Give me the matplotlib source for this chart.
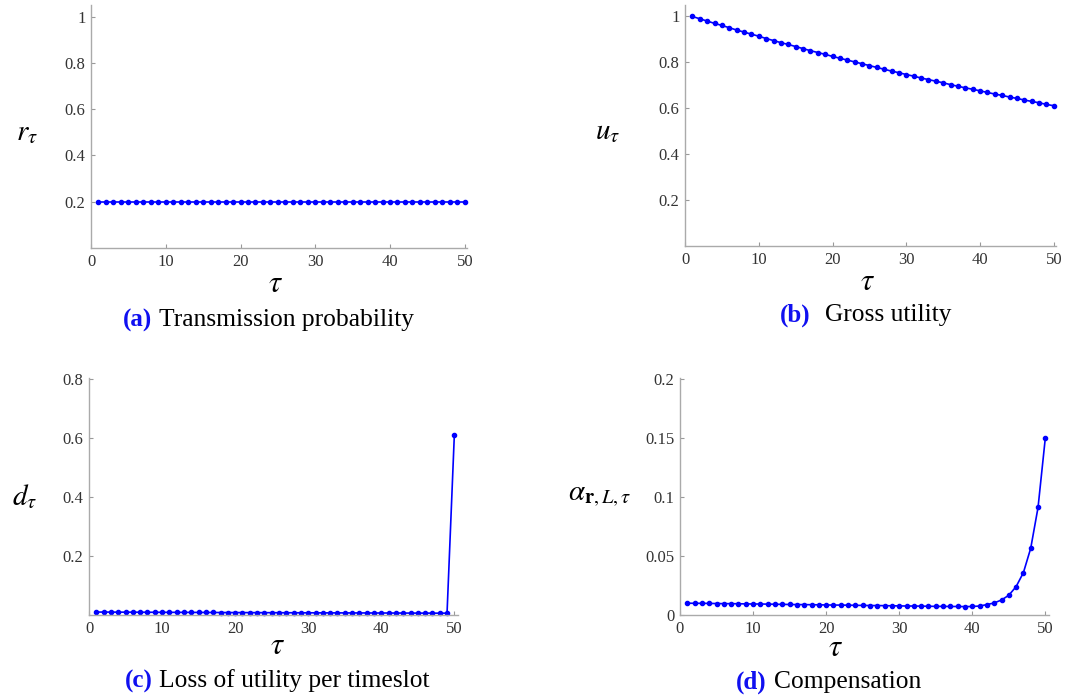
import matplotlib
matplotlib.use("Agg")
import matplotlib.pyplot as plt

plt.rcParams['font.family'] = ['Liberation Serif', 'DejaVu Serif']
plt.rcParams['mathtext.fontset'] = 'stix'

# time slots
tau = list(range(1, 51))

# (a) transmission probability
r_tau = [0.2] * 50

# (b) gross utility
u_tau = [1.000, 0.990, 0.980, 0.970, 0.961, 0.951, 0.941, 0.932, 0.923, 0.914,
         0.904, 0.895, 0.886, 0.878, 0.869, 0.860, 0.851, 0.843, 0.835, 0.826,
         0.818, 0.810, 0.802, 0.794, 0.786, 0.778, 0.770, 0.762, 0.755, 0.747,
         0.740, 0.732, 0.725, 0.718, 0.711, 0.703, 0.696, 0.689, 0.683, 0.676,
         0.669, 0.662, 0.656, 0.649, 0.643, 0.636, 0.630, 0.624, 0.617, 0.611]

# (c) loss of utility per timeslot
d_tau = [0.0100, 0.0099, 0.0098, 0.0097, 0.0096, 0.0095, 0.0094, 0.0093, 0.0092, 0.0091,
         0.0090, 0.0090, 0.0089, 0.0088, 0.0087, 0.0086, 0.0085, 0.0084, 0.0083, 0.0083,
         0.0082, 0.0081, 0.0080, 0.0079, 0.0079, 0.0078, 0.0077, 0.0076, 0.0075, 0.0075,
         0.0074, 0.0073, 0.0072, 0.0072, 0.0071, 0.0070, 0.0070, 0.0069, 0.0068, 0.0068,
         0.0067, 0.0066, 0.0066, 0.0065, 0.0064, 0.0064, 0.0063, 0.0062, 0.0062, 0.611]

# (d) compensation
alpha_tau = [0.0100, 0.0099, 0.0099, 0.0098, 0.0097, 0.0096, 0.0096, 0.0095, 0.0094, 0.0093,
             0.0093, 0.0092, 0.0091, 0.0090, 0.0089, 0.0088, 0.0088, 0.0087, 0.0086, 0.0085,
             0.0084, 0.0084, 0.0083, 0.0082, 0.0081, 0.0080, 0.0080, 0.0079, 0.0078, 0.0077,
             0.0076, 0.0076, 0.0075, 0.0074, 0.0073, 0.0073, 0.0072, 0.0072, 0.0071, 0.0072,
             0.0076, 0.0088, 0.0102, 0.0127, 0.0167, 0.0240, 0.0359, 0.0565, 0.0910, 0.1500]

x_ticks = [0, 10, 20, 30, 40, 50]

W, H = 1086, 698
fig = plt.figure(figsize=(W / 100, H / 100), dpi=100)


def px_axes(left, top, right, bottom):
    return fig.add_axes([left / W, 1 - bottom / H, (right - left) / W, (bottom - top) / H])


def ftext(x, y, s, **kw):
    fig.text(x / W, 1 - y / H, s, **kw)


def style(ax, xlim, ylim, yticks, ylabels):
    ax.set_xlim(*xlim)
    ax.set_ylim(*ylim)
    ax.set_xticks(x_ticks)
    ax.set_xticklabels([str(t) for t in x_ticks])
    ax.set_yticks(yticks)
    ax.set_yticklabels(ylabels)
    for s in ['top', 'right']:
        ax.spines[s].set_visible(False)
    for s in ['left', 'bottom']:
        ax.spines[s].set_color('#aaaaaa')
        ax.spines[s].set_linewidth(1.0)
    ax.tick_params(direction='in', length=3, color='#999999', labelcolor='#333333',
                   labelsize=12, pad=4)
    ax.patch.set_alpha(0)


def draw(ax, y):
    ax.plot(tau, y, color='#0000ff', lw=1.2, marker='o', markersize=3, clip_on=False)


# (a)
ax1 = px_axes(91, 5, 467, 248)
draw(ax1, r_tau)
style(ax1, (0, 50.3), (0, 1.05), [0.2, 0.4, 0.6, 0.8, 1.0], ['0.2', '0.4', '0.6', '0.8', '1'])

# (b)
ax2 = px_axes(685, 5, 1056, 246)
draw(ax2, u_tau)
style(ax2, (0, 50.3), (0, 1.05), [0.2, 0.4, 0.6, 0.8, 1.0], ['0.2', '0.4', '0.6', '0.8', '1'])

# (c)
ax3 = px_axes(89, 378, 458, 615)
draw(ax3, d_tau)
style(ax3, (0, 50.5), (0, 0.803), [0.2, 0.4, 0.6, 0.8], ['0.2', '0.4', '0.6', '0.8'])

# (d)
ax4 = px_axes(680, 378, 1049, 615)
draw(ax4, alpha_tau)
style(ax4, (0, 50.5), (0, 0.2005), [0, 0.05, 0.1, 0.15, 0.2], ['0', '0.05', '0.1', '0.15', '0.2'])

# axis labels
ftext(27, 133, r'$r_\tau$', fontsize=21, ha='center', va='center')
ftext(608, 132, r'$u_\tau$', fontsize=21, ha='center', va='center')
ftext(25, 497, r'$d_\tau$', fontsize=21, ha='center', va='center')
ftext(600, 496, r'$\alpha_{\mathbf{r},L,\tau}$', fontsize=21, ha='center', va='center')

for x, y in [(275, 285), (868, 283), (277, 647), (836, 649)]:
    ftext(x, y, r'$\tau$', fontsize=22, ha='center', va='center')

# captions
blue = '#1010f0'
caps = [(123, 159, 320, '(a)', 'Transmission probability'),
        (780, 825, 315, '(b)', 'Gross utility'),
        (125, 159, 681, '(c)', 'Loss of utility per timeslot'),
        (736, 774, 682, '(d)', 'Compensation')]
for xl, xt, y, tag, txt in caps:
    ftext(xl, y, tag, fontsize=18, fontweight='bold', color=blue, ha='left', va='center')
    ftext(xt, y, txt, fontsize=18.4, color='black', ha='left', va='center')

fig.savefig('out.png', dpi=100)
